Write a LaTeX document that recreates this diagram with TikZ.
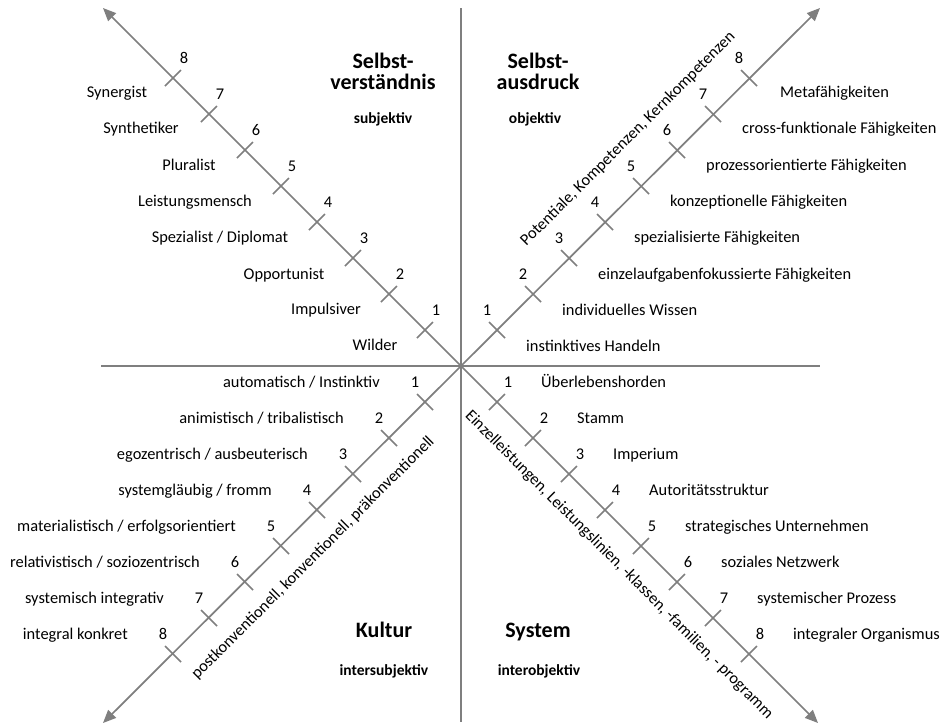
\documentclass[tikz,border=0pt]{standalone}
\usepackage{fontspec}
\setmainfont{Carlito}
\usetikzlibrary{arrows.meta}
\definecolor{axisgray}{HTML}{7F7F7F}
\begin{document}
\begin{tikzpicture}[x=1pt,y=-1pt,
  axis/.style={draw=axisgray, line width=1.7pt},
  arrowaxis/.style={axis, -{Triangle[length=13pt,width=11pt]}},
  lbl/.style={font=\fontsize{16.4}{19}\selectfont, inner sep=0pt},
  ttl/.style={font=\bfseries\fontsize{22}{26}\selectfont, inner sep=0pt, anchor=base},
  subttl/.style={font=\bfseries\fontsize{15.5}{18}\selectfont, inner sep=0pt, anchor=mid}
]
\useasboundingbox (0,0) rectangle (943,724);

% axes
\coordinate (O)  at (461,366);
\coordinate (VT) at (461,8);
\coordinate (VB) at (461,722);
\coordinate (HL) at (101,366);
\coordinate (HR) at (820,366);
\coordinate (TL) at (103,8);
\coordinate (TR) at (820,8);
\coordinate (BL) at (103,723);
\coordinate (BR) at (818,723);

\draw[axis] (VT) -- (VB);
\draw[axis] (HL) -- (HR);
\draw[arrowaxis] (O) -- (TL);
\draw[arrowaxis] (O) -- (TR);
\draw[arrowaxis] (O) -- (BL);
\draw[arrowaxis] (O) -- (BR);

% level ticks and numbers on the four diagonals
\foreach \k in {1,...,8} {
  \coordinate (tl\k) at (461-36*\k, 366-36*\k);
  \coordinate (tr\k) at (461+36*\k, 366-36*\k);
  \coordinate (bl\k) at (461-36*\k, 366+36*\k);
  \coordinate (br\k) at (461+36*\k, 366+36*\k);
  \draw[axis] ([shift={(-8,8)}]tl\k) -- ([shift={(8,-8)}]tl\k);
  \draw[axis] ([shift={(-8,-8)}]tr\k) -- ([shift={(8,8)}]tr\k);
  \draw[axis] ([shift={(-8,-8)}]bl\k) -- ([shift={(8,8)}]bl\k);
  \draw[axis] ([shift={(-8,8)}]br\k) -- ([shift={(8,-8)}]br\k);
  \node[lbl, anchor=mid] (ntl\k) at ([shift={(11,-17)}]tl\k) {\k};
  \node[lbl, anchor=mid] (ntr\k) at ([shift={(-10,-17)}]tr\k) {\k};
  \node[lbl, anchor=mid] (nbl\k) at ([shift={(-10,-17)}]bl\k) {\k};
  \node[lbl, anchor=mid] (nbr\k) at ([shift={(11,-17)}]br\k) {\k};
}

% Selbstverstaendnis (top left)
\node[lbl, anchor=mid] (s0) at (375,348) {Wilder};
\node[lbl, anchor=mid] (s1) at (326,312) {Impulsiver};
\node[lbl, anchor=mid] (s2) at (284,277) {Opportunist};
\node[lbl, anchor=mid] (s3) at (220,240) {Spezialist / Diplomat};
\node[lbl, anchor=mid] (s4) at (195,204) {Leistungsmensch};
\node[lbl, anchor=mid] (s5) at (189,168) {Pluralist};
\node[lbl, anchor=mid] (s6) at (141,131) {Synthetiker};
\node[lbl, anchor=mid] (s7) at (117,95)  {Synergist};

% Selbstausdruck (top right)
\node[lbl, anchor=mid west] (a0) at (526,349) {instinktives Handeln};
\node[lbl, anchor=mid west] (a1) at (562,313) {individuelles Wissen};
\node[lbl, anchor=mid west] (a2) at (598,277) {einzelaufgabenfokussierte Fähigkeiten};
\node[lbl, anchor=mid west] (a3) at (634,240) {spezialisierte Fähigkeiten};
\node[lbl, anchor=mid west] (a4) at (670,204) {konzeptionelle Fähigkeiten};
\node[lbl, anchor=mid west] (a5) at (706,168) {prozessorientierte Fähigkeiten};
\node[lbl, anchor=mid west] (a6) at (742,131) {cross-funktionale Fähigkeiten};
\node[lbl, anchor=mid west] (a7) at (780,95)  {Metafähigkeiten};

% Kultur (bottom left)
\node[lbl, anchor=mid east] (k1) at (380,385) {automatisch / Instinktiv};
\node[lbl, anchor=mid east] (k2) at (344,421) {animistisch / tribalistisch};
\node[lbl, anchor=mid east] (k3) at (308,457) {egozentrisch / ausbeuterisch};
\node[lbl, anchor=mid east] (k4) at (272,493) {systemgläubig / fromm};
\node[lbl, anchor=mid east] (k5) at (236,529) {materialistisch / erfolgsorientiert};
\node[lbl, anchor=mid east] (k6) at (200,565) {relativistisch / soziozentrisch};
\node[lbl, anchor=mid east] (k7) at (164,601) {systemisch integrativ};
\node[lbl, anchor=mid east] (k8) at (128,637) {integral konkret};

% System (bottom right)
\node[lbl, anchor=mid west] (y1) at (541,385) {Überlebenshorden};
\node[lbl, anchor=mid west] (y2) at (577,421) {Stamm};
\node[lbl, anchor=mid west] (y3) at (613,457) {Imperium};
\node[lbl, anchor=mid west] (y4) at (649,493) {Autoritätsstruktur};
\node[lbl, anchor=mid west] (y5) at (685,529) {strategisches Unternehmen};
\node[lbl, anchor=mid west] (y6) at (721,565) {soziales Netzwerk};
\node[lbl, anchor=mid west] (y7) at (757,601) {systemischer Prozess};
\node[lbl, anchor=mid west] (y8) at (793,637) {integraler Organismus};

% texts along the diagonals
\node[lbl, rotate=45]  (dtr) at (628,139) {Potentiale, Kompetenzen, Kernkompetenzen};
\node[lbl, rotate=45]  (dbl) at (313,558) {postkonventionell, konventionell, präkonventionell};
\node[lbl, rotate=-45] (dbr) at (619,565) {Einzelleistungen, Leistungslinien, -klassen, -familien, - programm};

% quadrant titles
\node[ttl] (q1a) at (383,68) {Selbst-};
\node[ttl] (q1b) at (383,89) {verständnis};
\node[subttl] (q1c) at (383,121) {subjektiv};
\node[ttl] (q2a) at (538,68) {Selbst-};
\node[ttl] (q2b) at (538,89) {ausdruck};
\node[subttl] (q2c) at (535,121) {objektiv};
\node[ttl] (q3a) at (384,637) {Kultur};
\node[subttl] (q3c) at (384,673) {intersubjektiv};
\node[ttl] (q4a) at (538,637) {System};
\node[subttl] (q4c) at (539,673) {interobjektiv};
\end{tikzpicture}
\end{document}
